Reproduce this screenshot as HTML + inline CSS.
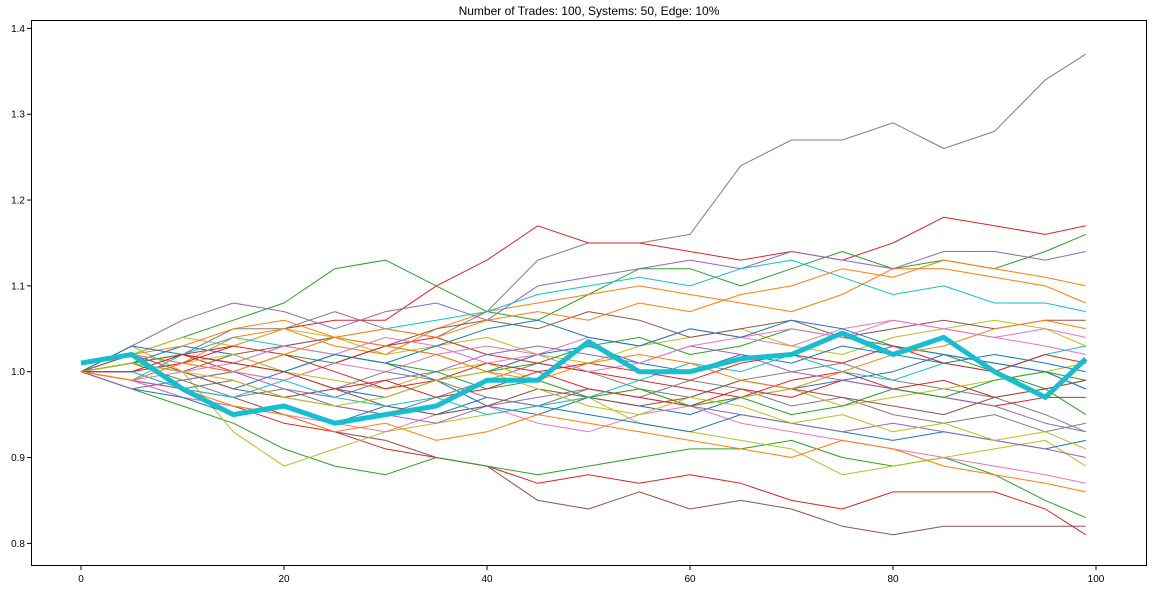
<!DOCTYPE html>
<html><head><meta charset="utf-8"><style>
body{margin:0;background:#fff;}
svg{display:block;font-family:"Liberation Sans","DejaVu Sans",sans-serif;}
</style></head>
<body>
<svg id="chart" width="1153" height="590" xmlns="http://www.w3.org/2000/svg"></svg>
<script>
const xSteps=[0,5,10,15,20,25,30,35,40,45,50,55,60,65,70,75,80,85,90,95,99];
const xTicks=[0,20,40,60,80,100];
const yTicks=[0.8,0.9,1.0,1.1,1.2,1.3,1.4];
const titleText="Number of Trades: 100, Systems: 50, Edge: 10%";
const seriesColors=["#7f7f7f","#d62728","#2ca02c","#8c564b","#d62728","#2ca02c","#bcbd22","#1f77b4","#ff7f0e","#9467bd","#e377c2","#7f7f7f","#bcbd22","#17becf","#1f77b4","#ff7f0e","#2ca02c","#d62728","#9467bd","#8c564b","#e377c2","#7f7f7f","#bcbd22","#1f77b4","#d62728","#ff7f0e","#9467bd","#2ca02c","#e377c2","#8c564b","#1f77b4","#17becf","#bcbd22","#d62728","#ff7f0e"];
const s0=[1.0,1.0,1.02,1.05,1.05,1.07,1.05,1.04,1.07,1.13,1.15,1.15,1.16,1.24,1.27,1.27,1.29,1.26,1.28,1.34,1.37];
const s1=[1.0,1.01,1.02,1.03,1.05,1.06,1.06,1.10,1.13,1.17,1.15,1.15,1.14,1.13,1.14,1.13,1.15,1.18,1.17,1.16,1.17];
const s2=[1.0,1.02,1.04,1.06,1.08,1.12,1.13,1.10,1.07,1.06,1.09,1.12,1.12,1.10,1.12,1.14,1.12,1.13,1.12,1.14,1.16];
const s3=[1.0,0.99,0.98,0.97,0.95,0.93,0.92,0.90,0.89,0.85,0.84,0.86,0.84,0.85,0.84,0.82,0.81,0.82,0.82,0.82,0.82];
const s4=[1.0,0.99,0.97,0.96,0.94,0.93,0.91,0.90,0.89,0.87,0.88,0.87,0.88,0.87,0.85,0.84,0.86,0.86,0.86,0.84,0.81];
const s5=[1.0,0.98,0.96,0.94,0.91,0.89,0.88,0.90,0.89,0.88,0.89,0.90,0.91,0.91,0.92,0.90,0.89,0.90,0.88,0.85,0.83];
const s6=[1.0,1.03,1.0,0.93,0.89,0.91,0.93,0.94,0.95,0.96,0.97,0.94,0.93,0.92,0.91,0.88,0.89,0.90,0.91,0.92,0.89];
const s7=[1.0,1.01,1.03,1.02,1.0,0.98,0.97,0.99,0.96,0.95,0.97,0.96,0.95,0.97,0.98,0.99,1.0,1.02,1.01,1.0,0.98];
const s8=[1.0,1.02,1.01,1.04,1.05,1.03,1.02,1.05,1.07,1.08,1.09,1.10,1.09,1.08,1.07,1.09,1.12,1.12,1.11,1.10,1.08];
const s9=[1.0,1.03,1.06,1.08,1.07,1.05,1.07,1.08,1.06,1.10,1.11,1.12,1.13,1.12,1.14,1.13,1.12,1.14,1.14,1.13,1.14];
const s10=[1.0,0.99,0.97,0.96,0.95,0.94,0.93,0.95,0.96,0.94,0.93,0.95,0.96,0.94,0.93,0.92,0.91,0.90,0.89,0.88,0.87];
const s11=[1.0,0.98,0.99,0.97,0.98,0.96,0.95,0.97,0.99,1.01,1.0,0.98,0.97,0.99,1.0,1.01,0.99,0.98,0.97,0.95,0.93];
const s12=[1.0,1.02,1.04,1.03,1.05,1.04,1.02,1.03,1.04,1.02,1.01,1.03,1.04,1.05,1.03,1.02,1.04,1.05,1.06,1.05,1.03];
const s13=[1.0,0.99,1.02,1.04,1.03,1.04,1.05,1.06,1.07,1.09,1.10,1.11,1.10,1.12,1.13,1.11,1.09,1.10,1.08,1.08,1.07];
const s14=[1.0,0.98,0.97,0.95,0.96,0.94,0.96,0.95,0.97,0.96,0.95,0.94,0.93,0.95,0.94,0.93,0.92,0.93,0.92,0.91,0.92];
const s15=[1.0,0.99,0.98,0.96,0.95,0.93,0.94,0.92,0.93,0.95,0.94,0.93,0.92,0.91,0.90,0.92,0.91,0.89,0.88,0.87,0.86];
const s16=[1.0,1.01,0.99,1.0,1.02,1.01,1.03,1.02,1.0,1.01,1.03,1.04,1.02,1.03,1.05,1.04,1.03,1.02,1.0,0.98,0.95];
const s17=[1.0,1.01,1.02,1.0,0.99,1.01,1.03,1.04,1.02,1.01,1.0,0.99,0.98,0.97,0.99,1.0,0.98,0.99,0.97,0.98,0.99];
const s18=[1.0,0.99,0.98,0.99,0.97,0.96,0.95,0.94,0.96,0.97,0.98,0.97,0.96,0.95,0.94,0.93,0.94,0.93,0.92,0.91,0.90];
const s19=[1.0,1.01,1.0,1.02,1.03,1.04,1.03,1.05,1.06,1.05,1.07,1.06,1.04,1.05,1.06,1.04,1.05,1.06,1.05,1.06,1.06];
const s20=[1.0,1.02,1.01,1.0,0.99,1.01,1.0,1.02,1.03,1.02,1.04,1.03,1.05,1.04,1.03,1.05,1.06,1.05,1.04,1.05,1.04];
const s21=[1.0,1.0,0.98,0.99,0.97,0.98,1.0,0.99,0.97,0.96,0.98,0.97,0.99,0.98,0.96,0.97,0.95,0.94,0.95,0.93,0.94];
const s22=[1.0,0.99,1.01,1.02,1.0,0.99,0.98,1.0,1.01,0.99,0.97,0.98,0.96,0.97,0.98,0.96,0.97,0.98,0.99,1.0,1.01];
const s23=[1.0,1.01,1.0,0.98,1.0,1.02,1.01,0.99,1.0,1.02,1.03,1.01,1.0,1.02,1.01,1.03,1.02,1.01,1.02,1.01,1.0];
const s24=[1.0,1.0,1.01,1.03,1.02,1.0,0.98,0.99,1.01,1.0,0.98,0.97,0.96,0.98,0.97,0.99,0.98,0.97,0.96,0.97,0.97];
const s25=[1.0,1.02,1.03,1.05,1.06,1.04,1.05,1.04,1.06,1.07,1.06,1.08,1.07,1.09,1.10,1.12,1.11,1.13,1.12,1.11,1.10];
const s26=[1.0,0.98,0.99,1.0,0.98,0.97,0.99,1.0,1.02,1.03,1.02,1.01,1.03,1.02,1.0,0.99,0.98,0.97,0.96,0.94,0.93];
const s27=[1.0,1.01,1.02,1.01,1.03,1.02,1.01,1.0,0.98,0.99,0.97,0.98,0.96,0.97,0.95,0.96,0.98,0.97,0.99,1.0,0.99];
const s28=[1.0,0.99,1.0,1.01,1.03,1.02,1.04,1.03,1.01,1.02,1.0,1.01,1.03,1.04,1.05,1.04,1.06,1.05,1.04,1.03,1.02];
const s29=[1.0,1.02,1.0,0.98,0.97,0.98,0.96,0.95,0.96,0.98,0.97,0.96,0.97,0.99,0.98,0.97,0.96,0.95,0.97,0.98,0.99];
const s30=[1.0,1.03,1.02,1.01,1.0,1.02,1.01,1.03,1.05,1.06,1.04,1.03,1.05,1.04,1.06,1.05,1.03,1.02,1.01,1.0,0.98];
const s31=[1.0,1.0,0.98,0.97,0.99,0.97,0.96,0.97,0.95,0.96,0.97,0.99,1.01,1.0,1.02,1.0,0.99,1.01,1.0,1.02,1.03];
const s32=[1.0,1.01,1.0,0.99,0.97,0.96,0.97,0.99,1.0,0.98,0.96,0.95,0.97,0.96,0.94,0.95,0.93,0.94,0.92,0.93,0.91];
const s33=[1.0,1.0,1.02,1.01,1.0,0.98,0.99,0.97,0.98,1.0,1.01,1.0,0.99,1.01,1.02,1.01,1.03,1.01,1.0,1.02,1.01];
const s34=[1.0,0.99,1.01,1.0,1.02,1.04,1.03,1.02,1.0,0.99,1.01,1.02,1.01,0.99,0.98,1.0,1.02,1.03,1.05,1.06,1.05];
const thickSeries=[1.01,1.02,0.98,0.95,0.96,0.94,0.95,0.96,0.99,0.99,1.035,1.0,1.0,1.015,1.02,1.045,1.02,1.04,1.0,0.97,1.015];
const allSeries=[s0,s1,s2,s3,s4,s5,s6,s7,s8,s9,s10,s11,s12,s13,s14,s15,s16,s17,s18,s19,s20,s21,s22,s23,s24,s25,s26,s27,s28,s29,s30,s31,s32,s33,s34];

const L=31,R=1147,T=20,B=566;
const xScale=v=>81+v*(1096-81)/100;
const yScale=v=>371.7-(v-1.0)*858.3;
const NS="http://www.w3.org/2000/svg";
const svg=document.getElementById('chart');
function mk(tag,attrs){const e=document.createElementNS(NS,tag);for(const k in attrs)e.setAttribute(k,attrs[k]);return e;}

const plotArea=mk('rect',{x:L,y:T,width:R-L,height:B-T,fill:'#fff',stroke:'none'});


svg.appendChild(plotArea);

const g=mk('g',{});


svg.appendChild(g);
allSeries.forEach((s,i)=>{
  const pts=s.map((v,j)=>xScale(xSteps[j]).toFixed(1)+','+yScale(v).toFixed(1)).join(' ');
  const pl=mk('polyline',{points:pts,fill:'none',stroke:seriesColors[i%seriesColors.length],'stroke-width':1,'stroke-linejoin':'round'});
  
  
  g.appendChild(pl);
});
const tp=thickSeries.map((v,j)=>xScale(xSteps[j]).toFixed(1)+','+yScale(v).toFixed(1)).join(' ');
const thick=mk('polyline',{points:tp,fill:'none',stroke:'#17becf','stroke-width':5,'stroke-linejoin':'round'});


g.appendChild(thick);

const frame=mk('rect',{x:L+0.5,y:T+0.5,width:R-L-1,height:B-T-1,fill:'none',stroke:'#000','stroke-width':1});


svg.appendChild(frame);

xTicks.forEach(t=>{
  const x=xScale(t);
  const tk=mk('line',{x1:x,y1:B,x2:x,y2:B+4,stroke:'#000'});
  
  
  svg.appendChild(tk);
  const tx=mk('text',{x:x,y:B+16,'font-size':10,'text-anchor':'middle',fill:'#000'});
  tx.textContent=String(t);
  
  
  svg.appendChild(tx);
});
yTicks.forEach(t=>{
  const y=yScale(t);
  const tk=mk('line',{x1:L-4,y1:y,x2:L,y2:y,stroke:'#000'});
  
  
  svg.appendChild(tk);
  const tx=mk('text',{x:L-6,y:y+3.5,'font-size':10,'text-anchor':'end',fill:'#000'});
  tx.textContent=t.toFixed(1);
  
  
  svg.appendChild(tx);
});
const title=mk('text',{x:(L+R)/2,y:15,'font-size':12,'text-anchor':'middle',fill:'#000'});
title.textContent=titleText;


svg.appendChild(title);
</script>
</body></html>
